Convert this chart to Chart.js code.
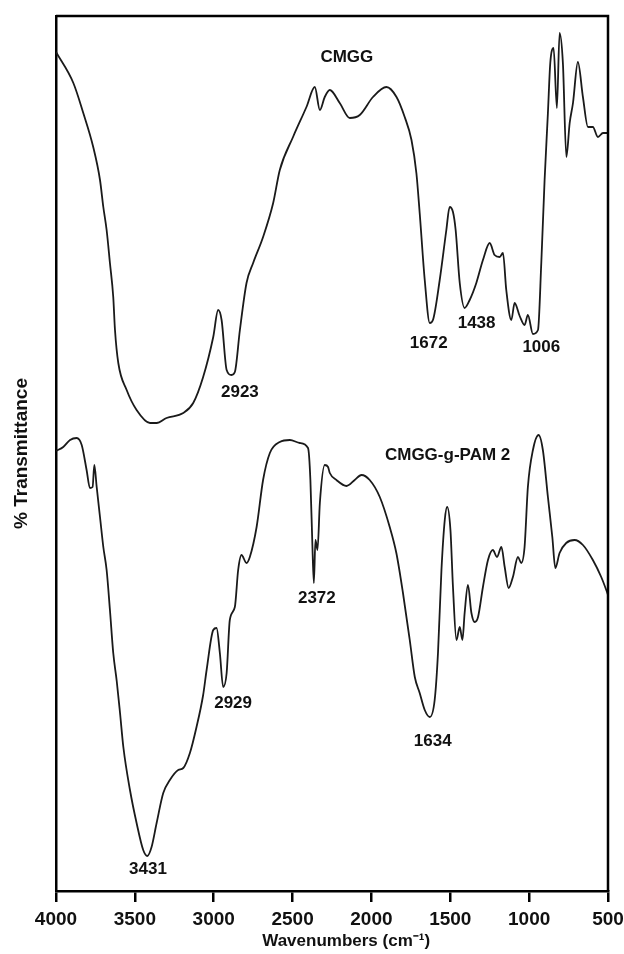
<!DOCTYPE html>
<html>
<head>
<meta charset="utf-8">
<script src="https://cdn.jsdelivr.net/npm/chart.js@4.4.1/dist/chart.umd.min.js"></script>
<style>
  html, body { margin: 0; padding: 0; background: #fff; }
  #wrap { width: 624px; height: 954px; position: relative; }
</style>
</head>
<body>
<div id="wrap"><canvas id="ftir"></canvas></div>
<script>
// FTIR spectra (transmittance in arbitrary units)
const xTicks = [4000, 3500, 3000, 2500, 2000, 1500, 1000, 500];

const cmggWn = [4000, 3890, 3827, 3764, 3721, 3700, 3679, 3658, 3637, 3626, 3605, 3552, 3489, 3404, 3362, 3299, 3193, 3130, 3067, 3003,
  2972, 2950, 2918, 2887, 2866, 2834, 2792, 2750, 2687, 2623, 2581, 2497, 2412, 2359, 2327, 2296, 2264, 2201, 2137, 2074,
  1990, 1905, 1841, 1789, 1746, 1715, 1694, 1662, 1630, 1610, 1567, 1525, 1504, 1483, 1466, 1440, 1409, 1377, 1335, 1293,
  1250, 1219, 1187, 1166, 1145, 1113, 1092, 1060, 1029, 1008, 976, 944, 923, 902, 881, 866, 845, 824, 807, 786,
  764, 743, 722, 691, 659, 627, 596, 564, 532, 500];
const cmggT = [83.9, 80.8, 77.8, 74.4, 71.1, 68.4, 66.1, 62.8, 59.4, 56.1, 52.8, 50.1, 48.1, 46.8, 46.8, 47.3, 47.8, 48.8, 51.4, 55.4,
  58.1, 57.1, 52.1, 51.6, 51.9, 56.1, 60.8, 62.8, 65.4, 68.8, 72.1, 75.4, 78.4, 80.4, 78.1, 79.4, 80.1, 78.8, 77.3, 77.6,
  79.4, 80.4, 79.4, 77.4, 75.1, 71.8, 67.8, 61.1, 56.8, 57.1, 61.1, 66.1, 68.4, 67.9, 66.1, 60.8, 58.3, 59.1, 60.8, 63.1,
  64.8, 63.6, 63.4, 63.8, 60.1, 57.1, 58.8, 57.5, 56.6, 57.6, 55.7, 56.1, 62.8, 71.1, 77.8, 82.8, 84.3, 78.3, 85.8, 82.8,
  73.4, 76.8, 78.8, 82.9, 79.4, 76.4, 76.4, 75.4, 75.8, 75.8];

const pamWn = [4000, 3954, 3911, 3869, 3837, 3806, 3785, 3768, 3757, 3742, 3721, 3700, 3679, 3658, 3637, 3615, 3594, 3573, 3531, 3489,
  3447, 3421, 3394, 3362, 3320, 3278, 3225, 3193, 3151, 3109, 3067, 3045, 3003, 2982, 2961, 2940, 2918, 2898, 2866, 2845,
  2824, 2792, 2771, 2728, 2687, 2644, 2581, 2517, 2454, 2402, 2387, 2374, 2365, 2355, 2342, 2327, 2296, 2275, 2264, 2222,
  2158, 2106, 2063, 2011, 1947, 1884, 1842, 1800, 1757, 1725, 1694, 1662, 1630, 1599, 1578, 1556, 1535, 1520, 1499, 1483,
  1461, 1440, 1423, 1409, 1388, 1366, 1345, 1324, 1293, 1261, 1230, 1204, 1176, 1155, 1130, 1103, 1071, 1050, 1029, 1008,
  976, 940, 913, 881, 853, 834, 807, 765, 712, 659, 596, 543, 511, 500];
const pamT = [44.0, 44.4, 45.1, 45.3, 44.6, 42.1, 40.3, 40.4, 42.6, 40.4, 37.4, 34.4, 32.1, 28.1, 23.8, 21.0, 17.8, 14.4, 10.1, 6.8,
  4.1, 3.5, 4.4, 6.8, 9.8, 11.1, 12.1, 12.3, 13.8, 16.4, 19.6, 22.1, 26.1, 26.3, 23.8, 20.4, 21.8, 27.1, 28.4, 32.1,
  33.6, 32.8, 33.4, 36.4, 41.1, 43.8, 44.9, 45.1, 44.8, 44.3, 41.1, 34.4, 30.8, 35.1, 34.1, 38.8, 42.6, 42.4, 41.8, 41.1,
  40.5, 41.1, 41.6, 41.1, 39.4, 36.4, 33.8, 29.8, 25.1, 21.4, 19.8, 18.1, 17.4, 19.1, 23.8, 32.1, 37.1, 38.4, 36.1, 30.4,
  25.1, 26.4, 25.1, 27.8, 30.6, 27.8, 26.9, 27.4, 30.4, 33.1, 34.1, 33.4, 34.4, 32.4, 30.3, 31.4, 33.4, 32.8, 34.4, 40.4,
  44.1, 45.6, 44.1, 39.4, 35.4, 32.3, 33.8, 34.8, 35.1, 34.6, 33.1, 31.4, 30.1, 29.6];

// text annotations placed in data space
const noteText = ['CMGG', '2923', '1672', '1438', '1006', 'CMGG-g-PAM 2', '2372', '2929', '1634', '3431'];
const noteWn   = [2156, 2834, 1637, 1333, 923, 1517, 2346, 2877, 1611, 3417];
const noteT    = [83.4, 49.9, 54.8, 56.8, 54.4, 43.6, 29.3, 18.8, 15.0, 2.2];

const FONT = '"Liberation Sans", Arial, sans-serif';
const INK = '#111';

function toPoints(wn, t) {
  return wn.map((w, i) => ({ x: w, y: t[i] }));
}

// top and right edges of the box (left/bottom come from the axes)
const frame = {
  id: 'frame',
  afterDatasetsDraw(chart) {
    const { ctx, chartArea: a } = chart;
    ctx.save();
    ctx.strokeStyle = '#000';
    ctx.lineWidth = 2.5;
    ctx.beginPath();
    ctx.moveTo(a.left, a.top);
    ctx.lineTo(a.right, a.top);
    ctx.lineTo(a.right, a.bottom);
    ctx.stroke();
    ctx.restore();
  }
};

const notes = {
  id: 'notes',
  afterDatasetsDraw(chart) {
    const { ctx, scales: { x, y } } = chart;
    ctx.save();
    ctx.fillStyle = INK;
    ctx.font = 'bold 17px ' + FONT;
    ctx.textAlign = 'center';
    ctx.textBaseline = 'middle';
    noteText.forEach((t, i) => {
      ctx.fillText(t, x.getPixelForValue(noteWn[i]), y.getPixelForValue(noteT[i]));
    });
    ctx.restore();
  }
};

const lineStyle = {
  borderColor: '#1a1a1a',
  borderWidth: 1.8,
  pointRadius: 0,
  fill: false,
  cubicInterpolationMode: 'monotone'
};

new Chart(document.getElementById('ftir').getContext('2d'), {
  type: 'line',
  data: {
    datasets: [
      { label: 'CMGG', data: toPoints(cmggWn, cmggT), ...lineStyle },
      { label: 'CMGG-g-PAM 2', data: toPoints(pamWn, pamT), ...lineStyle }
    ]
  },
  options: {
    responsive: true,
    maintainAspectRatio: false,
    animation: false,
    layout: { padding: { top: 16, right: 16, left: 0, bottom: 0 } },
    plugins: { legend: { display: false }, tooltip: { enabled: false } },
    scales: {
      x: {
        type: 'linear',
        reverse: true,
        min: 500,
        max: 4000,
        afterBuildTicks: s => { s.ticks = xTicks.map(v => ({ value: v })); },
        afterFit: s => { s.height = 63; s.paddingLeft = 0; s.paddingRight = 0; },
        ticks: { color: INK, padding: 6, maxRotation: 0, autoSkip: false, font: { family: FONT, size: 19, weight: 'bold' }, callback: v => String(v) },
        grid: { display: true, drawOnChartArea: false, drawTicks: true, tickLength: 11, color: '#000', lineWidth: 2.5 },
        border: { display: true, color: '#000', width: 2.5 },
        title: { display: true, text: '\u00a0\u00a0\u00a0\u00a0\u00a0\u00a0Wavenumbers (cm\u207b\u00b9)', color: INK, padding: { top: 0, bottom: 2 }, font: { family: FONT, size: 17, weight: 'bold' } }
      },
      y: {
        min: 0,
        max: 87.5,
        afterFit: s => { s.width = 56; },
        ticks: { display: false },
        grid: { display: false },
        border: { display: true, color: '#000', width: 2.5 },
        title: { display: true, text: '% Transmittance', color: INK, padding: { top: 10, bottom: 0 }, font: { family: FONT, size: 19, weight: 'bold' } }
      }
    }
  },
  plugins: [frame, notes]
});
</script>
</body>
</html>
